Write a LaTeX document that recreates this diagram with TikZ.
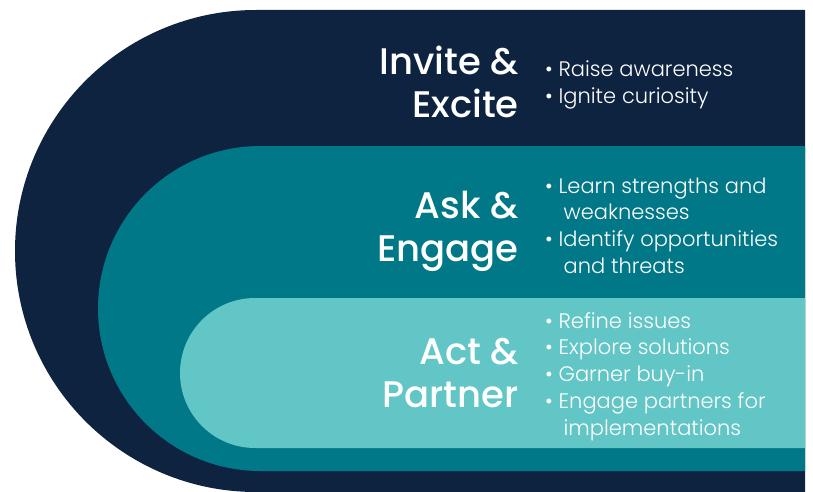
\documentclass[tikz,border=0pt]{standalone}
\usepackage{fontspec}
\newfontfamily\popl{Poppins Light}
\newfontfamily\popm{Poppins Medium}
\definecolor{navy}{HTML}{0E2340}
\definecolor{teal}{HTML}{007888}
\definecolor{lteal}{HTML}{63C6C6}
\tikzset{
  band/.style={fill=#1, draw=none},
  title/.style={anchor=base east, inner sep=0pt, text=white, font=\popm\fontsize{37}{43}\selectfont},
  items/.style={anchor=base west, inner sep=0pt, text=white, font=\popl\fontsize{21}{26.8}\selectfont},
}
\newcommand{\ind}{\hspace*{5pt}}
\begin{document}
\begin{tikzpicture}[x=1pt,y=-1pt]
\useasboundingbox (0,0) rectangle (813,492);
\fill[band=navy] (805,10) -- (256,10) arc[start angle=270,end angle=90,radius=241] -- (805,492) -- cycle;
\fill[band=teal] (805,146) -- (260.5,146) arc[start angle=270,end angle=90,radius=162.5] -- (805,471) -- cycle;
\fill[band=lteal] (805,298) -- (255,298) arc[start angle=270,end angle=90,radius=75] -- (805,448) -- cycle;

\node[title] (t1) at (519,75) {\begin{tabular}[t]{@{}r@{}}Invite \&\\Excite\end{tabular}};
\node[title] (t2) at (519,218) {\begin{tabular}[t]{@{}r@{}}Ask \&\\Engage\end{tabular}};
\node[title] (t3) at (519,364) {\begin{tabular}[t]{@{}r@{}}Act \&\\Partner\end{tabular}};

\node[items] (b1) at (545,77) {\begin{tabular}[t]{@{}l@{}}• Raise awareness\\• Ignite curiosity\end{tabular}};
\node[items] (b2) at (545,193) {\begin{tabular}[t]{@{}l@{}}• Learn strengths and\\\ind\phantom{•} weaknesses\\• Identify opportunities\\\ind\phantom{•} and threats\end{tabular}};
\node[items] (b3) at (545,328) {\begin{tabular}[t]{@{}l@{}}• Refine issues\\• Explore solutions\\• Garner buy-in\\• Engage partners for\\\ind\phantom{•} implementations\end{tabular}};
\end{tikzpicture}
\end{document}
